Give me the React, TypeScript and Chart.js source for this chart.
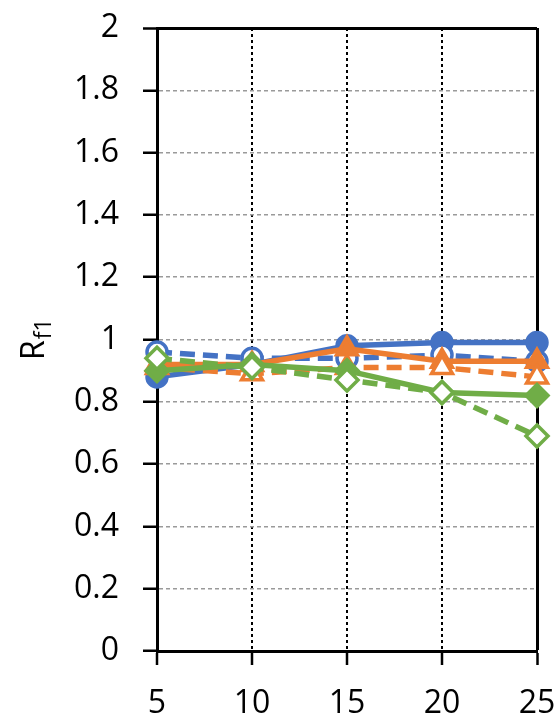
import React, { useEffect, useRef } from "react";
import { Chart, registerables } from "chart.js";

Chart.register(...registerables);

const xValues = [5, 10, 15, 20, 25];
const xTickValues = [5, 10, 15, 20, 25];
const yTickValues = [0, 0.2, 0.4, 0.6, 0.8, 1, 1.2, 1.4, 1.6, 1.8, 2];
const yTickLabels = ["0", "0.2", "0.4", "0.6", "0.8", "1", "1.2", "1.4", "1.6", "1.8", "2"];

const blueSolid = [0.88, 0.92, 0.98, 0.99, 0.99];
const blueDashed = [0.96, 0.94, 0.94, 0.95, 0.93];
const orangeSolid = [0.92, 0.92, 0.97, 0.93, 0.93];
const orangeDashed = [0.91, 0.89, 0.91, 0.91, 0.88];
const greenSolid = [0.9, 0.92, 0.9, 0.83, 0.82];
const greenDashed = [0.94, 0.91, 0.87, 0.83, 0.69];

const BLUE = "#4472C4";
const ORANGE = "#ED7D31";
const GREEN = "#70AD47";
const FONT = "'Open Sans', 'DejaVu Sans', sans-serif";

const toPoints = (ys: number[]) => ys.map((y, i) => ({ x: xValues[i], y }));

function makeSet(label: string, ys: number[], color: string, dashed: boolean, style: string, radius: number) {
  return {
    label,
    data: toPoints(ys),
    borderColor: color,
    backgroundColor: color,
    borderWidth: 5.5,
    borderDash: dashed ? [15, 8] : [],
    pointStyle: style,
    pointRadius: radius,
    pointBorderWidth: 3.5,
    pointBorderColor: color,
    pointBackgroundColor: dashed ? "#ffffff" : color,
    tension: 0,
    clip: false as any,
  };
}

const titlePlugin = {
  id: "yTitleSub",
  afterDraw(chart: any) {
    const ctx = chart.ctx;
    ctx.save();
    ctx.translate(44, 360);
    ctx.rotate(-Math.PI / 2);
    ctx.fillStyle = "#000";
    ctx.textBaseline = "alphabetic";
    ctx.textAlign = "left";
    ctx.font = `32px ${FONT}`;
    ctx.fillText("R", 0, 0);
    const w = ctx.measureText("R").width;
    ctx.font = `23px ${FONT}`;
    ctx.fillText("f1", w + 1, 7);
    ctx.restore();
  },
};

const zeroPad = (s: any) => {
  s.paddingLeft = 0;
  s.paddingRight = 0;
  s.paddingTop = 0;
  s.paddingBottom = 0;
};

export default function App() {
  const ref = useRef<HTMLCanvasElement | null>(null);
  useEffect(() => {
    document.body.style.margin = "0";
    const canvas = ref.current;
    if (!canvas) return;
    const chart = new Chart(canvas, {
      type: "line",
      data: {
        datasets: [
          makeSet("green dashed", greenDashed, GREEN, true, "rectRot", 11),
          makeSet("green solid", greenSolid, GREEN, false, "rectRot", 11),
          makeSet("orange dashed", orangeDashed, ORANGE, true, "triangle", 12),
          makeSet("orange solid", orangeSolid, ORANGE, false, "triangle", 12),
          makeSet("blue dashed", blueDashed, BLUE, true, "circle", 10),
          makeSet("blue solid", blueSolid, BLUE, false, "circle", 10),
        ] as any,
      },
      plugins: [titlePlugin],
      options: {
        animation: false,
        responsive: false,
        devicePixelRatio: 1,
        events: [],
        layout: { padding: { left: 0, right: 22, top: 28, bottom: 0 } },
        plugins: { legend: { display: false }, tooltip: { enabled: false } },
        scales: {
          x: {
            type: "linear",
            min: 5,
            max: 25,
            afterBuildTicks: (s: any) => {
              s.ticks = xTickValues.map((v) => ({ value: v }));
            },
            afterFit: (s: any) => {
              s.height = 69;
              zeroPad(s);
            },
            ticks: {
              font: { family: FONT, size: 32 },
              color: "#000",
              padding: 20,
              maxRotation: 0,
              callback: (v: any) => String(v),
            },
            grid: {
              color: (c: any) => (c.tick && c.tick.value === 5 ? "rgba(0,0,0,0)" : "#000"),
              lineWidth: (c: any) => (c.tick && c.tick.value === 25 ? 3 : 2),
              tickColor: "#000",
              tickLength: 14,
              tickWidth: 2.5,
              tickBorderDash: [],
            },
            border: {
              display: true,
              color: "#000",
              width: 3,
              dash: (c: any) => (c.tick && c.tick.value !== 25 ? [3, 3] : []),
            },
          },
          y: {
            type: "linear",
            min: 0,
            max: 2,
            afterBuildTicks: (s: any) => {
              s.ticks = yTickValues.map((v) => ({ value: v }));
            },
            afterFit: (s: any) => {
              s.width = 157;
              zeroPad(s);
            },
            ticks: {
              font: { family: FONT, size: 32 },
              color: "#000",
              padding: 24,
              callback: (v: any, i: number) => yTickLabels[i],
            },
            grid: {
              color: (c: any) => {
                const v = c.tick ? c.tick.value : -1;
                if (v === 0) return "rgba(0,0,0,0)";
                if (v === 2) return "#000";
                return "#9a9a9a";
              },
              lineWidth: (c: any) => (c.tick && c.tick.value === 2 ? 3 : 1.5),
              tickColor: "#000",
              tickLength: 14,
              tickWidth: 2.5,
              tickBorderDash: [],
            },
            border: {
              display: true,
              color: "#000",
              width: 3,
              dash: (c: any) => (c.tick && c.tick.value !== 2 ? [4, 3] : []),
            },
          },
        },
      } as any,
    });
    return () => chart.destroy();
  }, []);
  return (
    <div style={{ position: "fixed", left: 0, top: 0, width: 559, height: 720, background: "#fff" }}>
      <canvas ref={ref} width={559} height={720} style={{ width: 559, height: 720, display: "block" }} />
    </div>
  );
}
